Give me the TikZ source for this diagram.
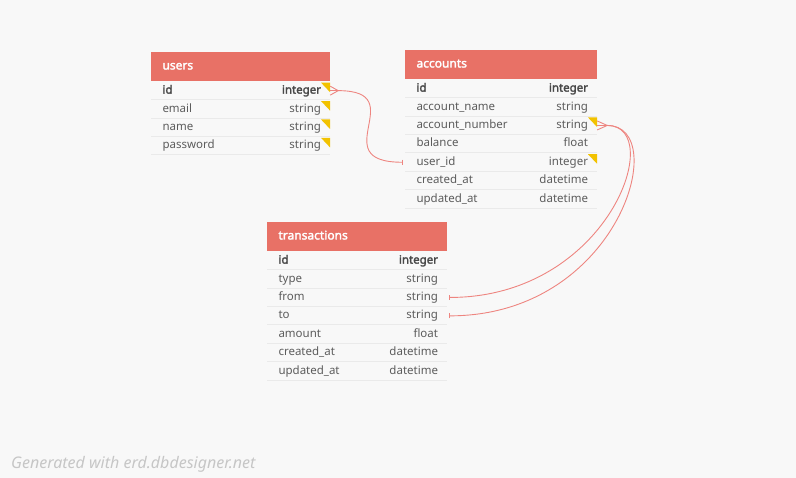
\documentclass[tikz,border=0pt]{standalone}
\usepackage{fontspec}
\setmainfont{Noto Sans}[AutoFakeBold=2.2]
\usetikzlibrary{positioning,arrows.meta}
\definecolor{bgcol}{HTML}{F8F8F8}
\definecolor{headcol}{HTML}{E87166}
\definecolor{txtcol}{HTML}{5C5C5C}
\definecolor{keycol}{HTML}{484848}
\definecolor{sepcol}{HTML}{EAEAEA}
\definecolor{flagcol}{HTML}{F2C200}
\definecolor{linkcol}{HTML}{EE8580}
\definecolor{footcol}{HTML}{C6C6C6}
\begin{document}
\begin{tikzpicture}[x=1pt,y=1pt,
    head/.style={fill=headcol, text=white, font=\bfseries\fontsize{12}{14}\selectfont,
      text width=#1, inner xsep=11.5pt, inner ysep=0pt, minimum height=29.5pt,
      text height=9pt, text depth=3pt, align=left},
    row/.style={text=txtcol, font=\fontsize{11.5}{14}\selectfont,
      text width=#1, inner xsep=11.5pt, inner ysep=0pt, minimum height=18pt,
      text height=9pt, text depth=3pt, align=left,
      path picture={\draw[sepcol, line width=1pt] (path picture bounding box.south west) -- (path picture bounding box.south east);}},
    flagged/.style={path picture={
      \draw[sepcol, line width=1pt] (path picture bounding box.south west) -- (path picture bounding box.south east);
      \fill[flagcol] ([xshift=-9pt,yshift=-1pt]path picture bounding box.north east) -- ([yshift=-1pt]path picture bounding box.north east) -- ([yshift=-10.5pt]path picture bounding box.north east) -- cycle;}},
    typ/.style={text=txtcol, font=\fontsize{11.5}{14}\selectfont, inner sep=0pt,
      text height=9pt, text depth=3pt},
    key/.style={text=keycol, font=\bfseries\fontsize{11.5}{14}\selectfont},
    link/.style={draw=linkcol, line width=0.9pt},
    foot/.style={text=footcol, font=\itshape\fontsize{16}{18}\selectfont, inner sep=0pt}]
  \fill[bgcol] (0,0) rectangle (796,-478);

  % users
  \node[head=156pt] (uh) at (240.5,-66.5) {users};
  \node[row=156pt, key, flagged, below=0pt of uh] (u1) {id};
  \node[row=156pt, flagged, below=0pt of u1] (u2) {email};
  \node[row=156pt, flagged, below=0pt of u2] (u3) {name};
  \node[row=156pt, flagged, below=0pt of u3] (u4) {password};
  \node[typ, key, left=9pt of u1.east] (u1t) {integer};
  \node[typ, left=9pt of u2.east] (u2t) {string};
  \node[typ, left=9pt of u3.east] (u3t) {string};
  \node[typ, left=9pt of u4.east] (u4t) {string};

  % accounts
  \node[head=169pt] (ah) at (501,-64.5) {accounts};
  \node[row=169pt, key, below=0pt of ah] (a1) {id};
  \node[row=169pt, below=0pt of a1] (a2) {account\_name};
  \node[row=169pt, flagged, below=0pt of a2] (a3) {account\_number};
  \node[row=169pt, below=0pt of a3] (a4) {balance};
  \node[row=169pt, flagged, below=0pt of a4] (a5) {user\_id};
  \node[row=169pt, below=0pt of a5] (a6) {created\_at};
  \node[row=169pt, below=0pt of a6] (a7) {updated\_at};
  \node[typ, key, left=9pt of a1.east] (a1t) {integer};
  \node[typ, left=9pt of a2.east] (a2t) {string};
  \node[typ, left=9pt of a3.east] (a3t) {string};
  \node[typ, left=9pt of a4.east] (a4t) {float};
  \node[typ, left=9pt of a5.east] (a5t) {integer};
  \node[typ, left=9pt of a6.east] (a6t) {datetime};
  \node[typ, left=9pt of a7.east] (a7t) {datetime};

  % transactions
  \node[head=157pt] (th) at (357,-236.5) {transactions};
  \node[row=157pt, key, below=0pt of th] (t1) {id};
  \node[row=157pt, below=0pt of t1] (t2) {type};
  \node[row=157pt, below=0pt of t2] (t3) {from};
  \node[row=157pt, below=0pt of t3] (t4) {to};
  \node[row=157pt, below=0pt of t4] (t5) {amount};
  \node[row=157pt, below=0pt of t5] (t6) {created\_at};
  \node[row=157pt, below=0pt of t6] (t7) {updated\_at};
  \node[typ, key, left=9pt of t1.east] (t1t) {integer};
  \node[typ, left=9pt of t2.east] (t2t) {string};
  \node[typ, left=9pt of t3.east] (t3t) {string};
  \node[typ, left=9pt of t4.east] (t4t) {string};
  \node[typ, left=9pt of t5.east] (t5t) {float};
  \node[typ, left=9pt of t6.east] (t6t) {datetime};
  \node[typ, left=9pt of t7.east] (t7t) {datetime};

  % links
  \coordinate (uf) at ([xshift=8pt]u1.east);
  \coordinate (af) at ([xshift=10pt]a3.east);
  \draw[link] ([yshift=4.5pt]u1.east) -- (uf) -- ([yshift=-4.5pt]u1.east);
  \draw[link] (u1.east) -- (uf);
  \draw[link, -{Bar[width=5pt]}] (uf) .. controls +(75,0) and +(-80,0) .. ([xshift=-2pt]a5.west);
  \draw[link] ([yshift=4.5pt]a3.east) -- (af) -- ([yshift=-4.5pt]a3.east);
  \draw[link] (a3.east) -- (af);
  \draw[link, -{Bar[width=5pt]}] (af) .. controls +(60,0) and +(160,0) .. ([xshift=2pt]t3.east);
  \draw[link, -{Bar[width=5pt]}] (af) .. controls +(65,0) and +(170,0) .. ([xshift=2pt]t4.east);

  \node[foot, anchor=base west] (gen) at (11,-468) {Generated with erd.dbdesigner.net};
\end{tikzpicture}
\end{document}
